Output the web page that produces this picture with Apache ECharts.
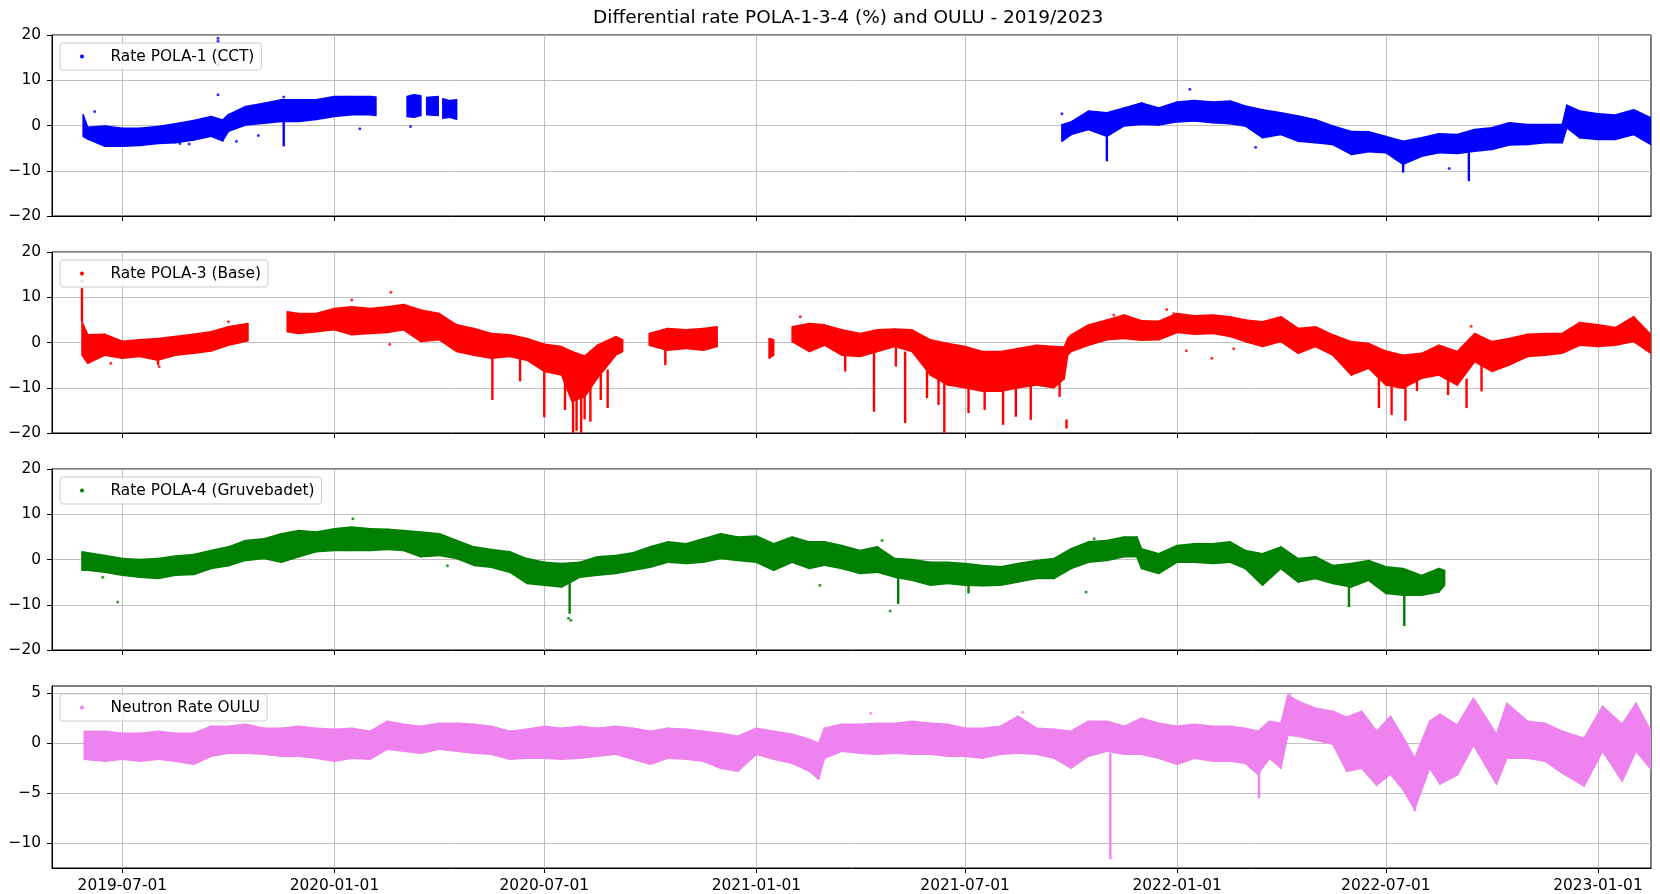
<!DOCTYPE html>
<html>
<head>
<meta charset="utf-8">
<title>Differential rate POLA-1-3-4 (%) and OULU - 2019/2023</title>
<script src="https://cdn.jsdelivr.net/npm/echarts@6/dist/echarts.min.js"></script>
<style>
  html, body { margin: 0; padding: 0; background: #fff; }
  #chart { width: 1660px; height: 894px; }
</style>
</head>
<body>
<div id="chart"></div>
<script>
const pola1Rows = [
  ['2019-05-28', -2.4, 2.4], ['2019-06-01', -3.0, -0.4], ['2019-06-16', -4.6, -0.1],
  ['2019-07-01', -4.6, -0.6], ['2019-07-16', -4.4, -0.6], ['2019-08-01', -4.0, -0.2],
  ['2019-08-16', -3.8, 0.4], ['2019-09-01', -3.2, 1.1], ['2019-09-16', -2.4, 2.0],
  ['2019-09-26', -3.4, 1.2], ['2019-10-01', -1.3, 2.4], ['2019-10-16', 0.1, 4.2],
  ['2019-11-01', 0.5, 4.9], ['2019-11-16', 0.9, 5.7], ['2019-12-01', 0.9, 5.7],
  ['2019-12-16', 1.3, 5.7], ['2020-01-01', 2.0, 6.4], ['2020-01-16', 2.4, 6.4],
  ['2020-02-01', 2.4, 6.4], ['2020-02-06', 2.2, 6.3], ['2020-02-20', null, null],
  ['2020-03-04', 2.0, 6.4], ['2020-03-10', 1.8, 6.8], ['2020-03-16', 2.2, 6.6],
  ['2020-03-18', null, null], ['2020-03-21', 2.4, 6.2], ['2020-03-31', 2.2, 6.4],
  ['2020-04-02', null, null], ['2020-04-04', 1.6, 5.9], ['2020-04-10', 1.8, 5.5],
  ['2020-04-16', 1.4, 5.7], ['2020-05-01', null, null],
  ['2021-09-23', -3.5, 0.2], ['2021-10-01', -2.0, 0.8], ['2021-10-16', -0.9, 3.2],
  ['2021-11-01', -2.4, 2.8], ['2021-11-16', -0.1, 3.9], ['2021-12-01', 0.2, 5.0],
  ['2021-12-16', 0.1, 3.9], ['2022-01-01', 0.8, 5.2], ['2022-01-16', 1.0, 5.5],
  ['2022-02-01', 0.6, 5.2], ['2022-02-16', 0.4, 5.4], ['2022-03-01', -0.1, 4.3],
  ['2022-03-16', -2.7, 3.5], ['2022-04-01', -2.0, 2.8], ['2022-04-16', -3.5, 2.1],
  ['2022-05-01', -3.8, 1.3], ['2022-05-16', -4.2, -0.1], ['2022-06-01', -6.4, -1.3],
  ['2022-06-16', -5.8, -1.4], ['2022-07-01', -6.0, -2.4], ['2022-07-16', -8.6, -3.5],
  ['2022-08-01', -6.8, -2.7], ['2022-08-16', -6.0, -1.8], ['2022-09-01', -6.2, -2.0],
  ['2022-09-16', -5.7, -0.9], ['2022-10-01', -5.3, -0.5], ['2022-10-16', -4.3, 0.6],
  ['2022-11-01', -4.2, 0.2], ['2022-11-16', -3.8, 0.2], ['2022-12-01', -3.8, 0.2],
  ['2022-12-05', -0.5, 4.5], ['2022-12-16', -2.7, 3.2], ['2023-01-01', -3.1, 2.6],
  ['2023-01-16', -3.1, 2.3], ['2023-02-01', -2.0, 3.5], ['2023-02-16', -4.2, 1.7]
];
// spikes: [date, low, high]
const pola1Spikes = [
  ['2019-11-18', -4.6, 0.9], ['2021-11-01', -7.9, -2.0],
  ['2022-07-16', -10.4, -7.0], ['2022-09-11', -12.3, -5.5]
];
const pola1Dots = [
  ['2019-06-07', 3.1], ['2019-09-22', 19.3], ['2019-09-22', 18.6], ['2019-09-22', 16.5],
  ['2019-09-22', 13.4], ['2019-09-22', 6.8], ['2019-11-18', 6.3], ['2019-08-20', -4.0],
  ['2019-08-28', -4.1], ['2019-10-08', -3.5], ['2019-10-27', -2.2], ['2020-01-23', -0.7],
  ['2020-03-07', -0.2], ['2021-09-23', 2.6], ['2022-01-12', 8.0], ['2022-08-25', -9.5],
  ['2022-03-10', -4.8]
];

const pola3Rows = [
  ['2019-05-27', -2.8, 4.6], ['2019-06-01', -4.6, 1.7], ['2019-06-16', -2.8, 1.8],
  ['2019-07-01', -3.5, 0.3], ['2019-07-16', -3.1, 0.6], ['2019-08-01', -3.9, 0.9],
  ['2019-08-16', -2.8, 1.3], ['2019-09-01', -2.4, 1.8], ['2019-09-16', -1.9, 2.4],
  ['2019-10-01', -0.6, 3.5], ['2019-10-18', 0.4, 4.2], ['2019-11-01', null, null],
  ['2019-11-21', 2.4, 6.8], ['2019-12-01', 2.0, 6.4], ['2019-12-16', 2.4, 6.4],
  ['2020-01-01', 2.8, 7.5], ['2020-01-16', 1.7, 7.9], ['2020-02-01', 2.0, 7.5],
  ['2020-02-16', 2.2, 7.9], ['2020-03-01', 2.8, 8.4], ['2020-03-16', 0.2, 7.2],
  ['2020-04-01', 0.6, 6.4], ['2020-04-16', -2.0, 3.9], ['2020-05-01', -2.8, 3.1],
  ['2020-05-16', -3.5, 2.0], ['2020-06-01', -3.1, 1.7], ['2020-06-16', -3.9, 0.9],
  ['2020-07-01', -6.4, -0.4], ['2020-07-16', -7.2, -0.9], ['2020-07-25', -13.0, -2.0],
  ['2020-08-05', -12.0, -3.0], ['2020-08-16', -7.9, -0.6], ['2020-09-01', -2.8, 1.3],
  ['2020-09-07', -2.0, 0.6], ['2020-09-20', null, null], ['2020-09-30', -0.6, 2.0],
  ['2020-10-16', -1.7, 3.1], ['2020-11-01', -1.3, 2.8], ['2020-11-16', -1.7, 3.1],
  ['2020-11-28', -0.9, 3.5], ['2020-12-15', null, null], ['2021-01-12', -3.5, 0.9],
  ['2021-01-16', -2.8, 0.6], ['2021-01-24', null, null], ['2021-02-01', 0.2, 3.5],
  ['2021-02-16', -2.0, 4.2], ['2021-03-01', -0.6, 3.9], ['2021-03-16', -2.8, 2.8],
  ['2021-04-01', -3.1, 2.0], ['2021-04-16', -2.0, 2.8], ['2021-05-01', -0.9, 3.0],
  ['2021-05-16', -2.0, 2.8], ['2021-06-01', -7.2, 0.6], ['2021-06-16', -9.4, -0.2],
  ['2021-07-01', -10.0, -0.9], ['2021-07-16', -10.8, -2.0], ['2021-08-01', -10.8, -2.0],
  ['2021-08-16', -10.0, -1.3], ['2021-09-01', -9.4, -0.6], ['2021-09-16', -10.0, -0.9],
  ['2021-09-25', -8.0, -1.0], ['2021-09-28', -2.8, 0.9], ['2021-10-01', -2.0, 1.7],
  ['2021-10-16', -0.6, 3.9], ['2021-11-01', 0.6, 5.0], ['2021-11-16', 0.9, 6.1],
  ['2021-12-01', 0.5, 4.8], ['2021-12-16', 0.6, 4.7], ['2022-01-01', 2.2, 6.4],
  ['2022-01-16', 1.8, 5.9], ['2022-02-01', 2.0, 6.1], ['2022-02-16', 1.3, 5.7],
  ['2022-03-01', 0.2, 5.0], ['2022-03-16', -0.9, 4.6], ['2022-04-01', 0.2, 5.7],
  ['2022-04-16', -2.4, 3.1], ['2022-05-01', -0.9, 3.5], ['2022-05-16', -2.8, 1.7],
  ['2022-06-01', -7.2, 0.2], ['2022-06-16', -5.7, -0.2], ['2022-07-01', -9.4, -1.9],
  ['2022-07-16', -10.1, -2.8], ['2022-08-01', -7.9, -2.4], ['2022-08-16', -7.2, -0.6],
  ['2022-09-01', -9.4, -2.0], ['2022-09-16', -4.2, 2.0], ['2022-10-01', -6.4, 0.2],
  ['2022-10-16', -5.0, 0.9], ['2022-11-01', -3.1, 1.8], ['2022-11-16', -2.8, 2.0],
  ['2022-12-01', -2.4, 2.0], ['2022-12-16', -0.6, 4.4], ['2023-01-01', -0.9, 3.9],
  ['2023-01-16', -0.6, 3.3], ['2023-02-01', 0.2, 5.7], ['2023-02-16', -2.4, 1.7]
];
const pola3Spikes = [
  ['2019-05-27', 4.6, 12.0], ['2019-08-01', -5.0, -3.0], ['2020-05-17', -12.7, -3.0],
  ['2020-06-10', -8.6, -3.0], ['2020-07-01', -16.5, -5.0], ['2020-07-19', -14.9, -6.0],
  ['2020-07-26', -20.0, -10.0], ['2020-07-29', -19.5, -10.0], ['2020-08-02', -20.0, -10.0],
  ['2020-08-05', -17.0, -10.0], ['2020-08-10', -17.5, -6.0], ['2020-08-19', -12.7, -6.0],
  ['2020-08-25', -14.5, -6.0], ['2020-10-14', -5.0, -1.5], ['2021-03-19', -6.4, -2.5],
  ['2021-04-13', -15.3, -2.0], ['2021-05-02', -5.3, -1.0], ['2021-05-10', -17.8, -2.0],
  ['2021-05-29', -12.3, -5.0], ['2021-06-08', -13.8, -8.0], ['2021-06-13', -20.0, -8.0],
  ['2021-07-04', -15.6, -9.0], ['2021-07-18', -14.9, -9.0], ['2021-08-03', -18.2, -9.0],
  ['2021-08-14', -16.4, -9.0], ['2021-08-27', -17.1, -8.0], ['2021-09-21', -12.0, -8.0],
  ['2021-09-27', -19.0, -17.0], ['2022-06-25', -14.5, -7.0], ['2022-07-06', -16.0, -8.0],
  ['2022-07-18', -17.3, -8.0], ['2022-07-28', -10.7, -6.0], ['2022-08-24', -11.6, -6.0],
  ['2022-09-09', -14.5, -8.0], ['2022-09-22', -10.8, -4.0]
];
const pola3Dots = [
  ['2019-05-27', 14.9], ['2019-05-27', 13.6], ['2019-06-21', -4.6], ['2019-08-02', -5.3],
  ['2019-10-01', 4.6], ['2020-01-16', 9.4], ['2020-02-19', 11.1], ['2020-02-18', -0.4],
  ['2021-02-08', 5.7], ['2021-11-07', 6.1], ['2021-12-23', 7.3], ['2021-12-29', 6.4],
  ['2022-01-09', -1.8], ['2022-01-31', -3.5], ['2022-02-19', -1.4], ['2022-09-13', 3.6]
];

const pola4Rows = [
  ['2019-05-27', -2.4, 1.7], ['2019-06-01', -2.4, 1.5], ['2019-06-16', -2.8, 0.9],
  ['2019-07-01', -3.5, 0.2], ['2019-07-16', -3.9, 0.0], ['2019-08-01', -4.2, 0.2],
  ['2019-08-16', -3.5, 0.8], ['2019-09-01', -3.3, 1.1], ['2019-09-16', -2.0, 2.0],
  ['2019-10-01', -1.4, 2.8], ['2019-10-16', -0.2, 4.2], ['2019-11-01', 0.2, 4.6],
  ['2019-11-16', -0.6, 5.7], ['2019-12-01', 0.6, 6.4], ['2019-12-16', 1.7, 6.1],
  ['2020-01-01', 2.0, 6.8], ['2020-01-16', 2.0, 7.2], ['2020-02-01', 2.0, 6.8],
  ['2020-02-16', 2.2, 6.7], ['2020-03-01', 2.0, 6.4], ['2020-03-16', 0.6, 6.1],
  ['2020-04-01', 0.9, 5.7], ['2020-04-16', 0.2, 4.2], ['2020-05-01', -1.3, 2.8],
  ['2020-05-16', -1.7, 2.2], ['2020-06-01', -2.8, 1.7], ['2020-06-16', -5.3, 0.2],
  ['2020-07-01', -5.7, -0.6], ['2020-07-16', -6.1, -0.9], ['2020-08-01', -3.9, -0.6],
  ['2020-08-16', -3.5, 0.6], ['2020-09-01', -3.1, 0.9], ['2020-09-16', -2.4, 1.5],
  ['2020-10-01', -1.7, 2.8], ['2020-10-16', -0.6, 3.9], ['2020-11-01', -0.9, 3.5],
  ['2020-11-16', -0.6, 4.6], ['2020-12-01', 0.2, 5.7], ['2020-12-16', -0.2, 5.0],
  ['2021-01-01', -0.6, 5.2], ['2021-01-16', -2.4, 3.5], ['2021-02-01', -0.6, 5.0],
  ['2021-02-16', -2.0, 3.9], ['2021-03-01', -1.3, 3.9], ['2021-03-16', -2.0, 3.1],
  ['2021-04-01', -3.1, 2.0], ['2021-04-16', -2.8, 2.8], ['2021-05-01', -3.9, 0.2],
  ['2021-05-16', -4.6, 0.0], ['2021-06-01', -5.7, -0.6], ['2021-06-16', -5.3, -0.6],
  ['2021-07-01', -5.7, -0.9], ['2021-07-16', -5.8, -1.3], ['2021-08-01', -5.7, -1.6],
  ['2021-08-16', -5.0, -0.9], ['2021-09-01', -4.2, -0.2], ['2021-09-16', -4.2, 0.2],
  ['2021-10-01', -2.0, 2.4], ['2021-10-16', -0.6, 3.9], ['2021-11-01', -0.2, 4.2],
  ['2021-11-16', 0.6, 5.0], ['2021-11-27', 0.6, 5.0], ['2021-12-01', -2.0, 2.4],
  ['2021-12-16', -3.1, 1.3], ['2022-01-01', -0.6, 3.1], ['2022-01-16', -0.6, 3.5],
  ['2022-02-01', -0.9, 3.5], ['2022-02-16', -0.6, 3.9], ['2022-03-01', -2.0, 2.0],
  ['2022-03-16', -5.7, 1.3], ['2022-04-01', -2.0, 2.8], ['2022-04-16', -5.0, 0.2],
  ['2022-05-01', -4.2, 0.6], ['2022-05-16', -5.3, -1.3], ['2022-06-01', -6.1, -0.9],
  ['2022-06-16', -4.6, -0.2], ['2022-07-01', -7.5, -1.6], ['2022-07-16', -7.9, -2.0],
  ['2022-08-01', -7.9, -3.5], ['2022-08-16', -7.2, -2.0], ['2022-08-21', -5.7, -2.4]
];
const pola4Spikes = [
  ['2020-07-23', -12.0, -5.0], ['2021-05-04', -9.8, -3.0], ['2021-07-04', -7.5, -4.0],
  ['2022-05-30', -10.5, -5.0], ['2022-07-17', -14.7, -6.0]
];
const pola4Dots = [
  ['2019-06-27', -9.4], ['2019-06-14', -3.9], ['2020-07-24', -13.4], ['2020-07-22', -13.0],
  ['2020-01-17', 9.0], ['2020-04-08', -1.4], ['2021-04-27', -11.4], ['2021-02-25', -5.7],
  ['2021-10-14', -7.2], ['2021-10-21', 4.6], ['2021-04-20', 4.2]
];

const ouluRows = [
  ['2019-05-29', -1.6, 1.2], ['2019-06-16', -1.8, 1.2], ['2019-07-01', -1.6, 1.0],
  ['2019-07-16', -1.8, 1.0], ['2019-08-01', -1.6, 1.2], ['2019-08-16', -1.8, 1.0],
  ['2019-09-01', -2.1, 1.0], ['2019-09-16', -1.3, 1.7], ['2019-10-01', -1.0, 1.7],
  ['2019-10-16', -1.0, 1.9], ['2019-11-01', -1.1, 1.5], ['2019-11-16', -1.3, 1.5],
  ['2019-12-01', -1.3, 1.7], ['2019-12-16', -1.5, 1.5], ['2020-01-01', -1.8, 1.4],
  ['2020-01-16', -1.5, 1.5], ['2020-02-01', -1.6, 1.2], ['2020-02-16', -0.6, 2.2],
  ['2020-03-01', -0.8, 1.9], ['2020-03-16', -1.0, 1.7], ['2020-04-01', -0.6, 2.0],
  ['2020-04-16', -0.8, 2.0], ['2020-05-01', -1.0, 1.9], ['2020-05-16', -1.1, 1.7],
  ['2020-06-01', -1.6, 1.2], ['2020-06-16', -1.5, 1.4], ['2020-07-01', -1.5, 1.7],
  ['2020-07-16', -1.6, 1.5], ['2020-08-01', -1.5, 1.7], ['2020-08-16', -1.3, 1.5],
  ['2020-09-01', -1.1, 1.7], ['2020-09-16', -1.6, 1.5], ['2020-10-01', -2.1, 1.2],
  ['2020-10-16', -1.5, 1.5], ['2020-11-01', -1.6, 1.4], ['2020-11-16', -1.8, 1.2],
  ['2020-12-01', -2.5, 1.0], ['2020-12-16', -2.8, 0.7], ['2021-01-01', -1.1, 1.5],
  ['2021-01-16', -1.6, 1.2], ['2021-02-01', -2.0, 0.9], ['2021-02-16', -2.8, 0.4],
  ['2021-02-24', -3.6, 0.0], ['2021-03-01', -1.5, 1.5], ['2021-03-16', -0.8, 1.9],
  ['2021-04-01', -1.0, 1.9], ['2021-04-16', -1.1, 2.0], ['2021-05-01', -1.0, 2.0],
  ['2021-05-16', -1.1, 2.2], ['2021-06-01', -1.1, 2.0], ['2021-06-16', -1.3, 1.9],
  ['2021-07-01', -1.3, 1.5], ['2021-07-16', -1.5, 1.5], ['2021-08-01', -1.1, 1.7],
  ['2021-08-16', -1.0, 2.7], ['2021-09-01', -1.1, 1.5], ['2021-09-16', -1.5, 1.4],
  ['2021-10-01', -2.5, 1.2], ['2021-10-16', -1.3, 2.2], ['2021-11-01', -0.8, 2.2],
  ['2021-11-16', -1.1, 1.7], ['2021-12-01', -1.1, 2.5], ['2021-12-16', -1.5, 2.0],
  ['2022-01-01', -2.1, 1.7], ['2022-01-16', -1.5, 1.9], ['2022-02-01', -1.8, 1.7],
  ['2022-02-16', -1.8, 1.7], ['2022-03-01', -2.0, 1.5], ['2022-03-12', -3.1, 1.2],
  ['2022-03-22', -1.5, 2.2], ['2022-04-01', -2.5, 2.0], ['2022-04-07', 0.8, 4.8],
  ['2022-04-16', 0.7, 4.2], ['2022-05-01', 0.3, 3.5], ['2022-05-16', -0.1, 3.2],
  ['2022-05-28', -2.8, 2.6], ['2022-06-10', -2.5, 3.2], ['2022-06-23', -4.2, 1.2],
  ['2022-07-05', -3.1, 2.7], ['2022-07-15', -4.5, 0.8], ['2022-07-26', -6.6, -1.5],
  ['2022-08-08', -2.5, 2.2], ['2022-08-17', -4.1, 2.9], ['2022-09-01', -3.2, 1.8],
  ['2022-09-15', -0.2, 4.5], ['2022-10-05', -4.1, 0.9], ['2022-10-14', -1.5, 4.0],
  ['2022-11-01', -1.5, 2.2], ['2022-11-16', -1.8, 2.0], ['2022-12-01', -3.0, 1.2],
  ['2022-12-20', -4.3, 0.5], ['2023-01-05', -0.8, 3.7], ['2023-01-22', -3.8, 1.9],
  ['2023-02-03', -0.8, 4.0], ['2023-02-16', -2.6, 1.2]
];
const ouluSpikes = [
  ['2021-11-04', -11.6, -1.0], ['2022-03-13', -5.5, -2.0], ['2022-07-26', -6.8, -4.0]
];
const ouluDots = [
  ['2021-04-10', 3.0], ['2021-08-20', 3.1], ['2022-04-09', 4.9]
];

const xTicks = ['2019-07-01', '2020-01-01', '2020-07-01', '2021-01-01',
                '2021-07-01', '2022-01-01', '2022-07-01', '2023-01-01'];
const rateTicks = [-20, -10, 0, 10, 20];
const ouluTicks = [-10, -5, 0, 5];

const panels = [
  { name: 'Rate POLA-1 (CCT)', color: '#0000ff', rows: pola1Rows, spikes: pola1Spikes, dots: pola1Dots },
  { name: 'Rate POLA-3 (Base)', color: '#ff0000', rows: pola3Rows, spikes: pola3Spikes, dots: pola3Dots },
  { name: 'Rate POLA-4 (Gruvebadet)', color: '#008000', rows: pola4Rows, spikes: pola4Spikes, dots: pola4Dots },
  { name: 'Neutron Rate OULU', color: '#ee82ee', rows: ouluRows, spikes: ouluSpikes, dots: ouluDots }
];

const FONT = 'DejaVu Sans';
const tops = [35, 252, 469, 686];
const heights = [181, 181, 181, 182];

// dates -> ms timestamps (the x axes are plain value axes in ms)
const toTs = (s) => {
  const p = s.split('-').map(Number);
  return Date.UTC(p[0], p[1] - 1, p[2]);
};
const pad = (n) => (n < 10 ? '0' : '') + n;
const fmtDate = (v) => {
  const d = new Date(v);
  return d.getUTCFullYear() + '-' + pad(d.getUTCMonth() + 1) + '-' + pad(d.getUTCDate());
};
const fmtNum = (v) => String(v).replace('-', '\u2212');

const tickTs = xTicks.map(toTs);

const grid = [], xAxis = [], yAxis = [], legend = [], series = [];

panels.forEach((p, i) => {
  grid.push({
    left: 52, right: 9, top: tops[i], height: heights[i],
    show: true, borderColor: '#000', borderWidth: 1
  });

  xAxis.push({
    type: 'value', gridIndex: i,
    min: toTs('2019-05-01'), max: toTs('2023-02-16'),
    axisLine: { show: true, onZero: false, lineStyle: { color: '#000', width: 1 } },
    axisTick: { show: true, customValues: tickTs, length: 5, lineStyle: { color: '#000', width: 1 } },
    axisLabel: {
      show: i === 3, customValues: tickTs, formatter: fmtDate,
      margin: 10, color: '#000', fontFamily: FONT, fontSize: 15.4
    },
    splitLine: { show: true, lineStyle: { color: '#b0b0b0', width: 0.8 } }
  });

  const isOulu = i === 3;
  const yTicks = isOulu ? ouluTicks : rateTicks;
  yAxis.push({
    type: 'value', gridIndex: i,
    min: isOulu ? -12.48 : -20, max: isOulu ? 5.72 : 20,
    axisLine: { show: true, onZero: false, lineStyle: { color: '#000', width: 1 } },
    axisTick: { show: true, customValues: yTicks, length: 5, lineStyle: { color: '#000', width: 1 } },
    axisLabel: {
      customValues: yTicks, formatter: fmtNum,
      margin: 11, color: '#000', fontFamily: FONT, fontSize: 15.4
    },
    splitLine: { show: true, lineStyle: { color: '#b0b0b0', width: 0.8 } }
  });

  legend.push({
    data: [p.name], left: 60, top: tops[i] + 8,
    icon: 'circle', itemWidth: 4, itemHeight: 4,
    padding: [6, 7, 6, 20],
    backgroundColor: 'rgba(255,255,255,0.8)',
    borderColor: '#cccccc', borderWidth: 1, borderRadius: 3,
    selectedMode: false,
    textStyle: { fontFamily: FONT, fontSize: 15.4, color: '#000', padding: [0, 0, 0, 21.5] }
  });

  // scatter cloud drawn as a band: one quad between each pair of neighbouring rows
  const band = p.rows.map(r => [toTs(r[0]), r[1], r[2]]);
  series.push({
    name: p.name, type: 'custom', xAxisIndex: i, yAxisIndex: i,
    silent: true, clip: true, encode: { x: 0, y: [1, 2] },
    itemStyle: { color: p.color },
    renderItem: (params, api) => {
      const cur = band[params.dataIndex];
      const nxt = band[params.dataIndex + 1];
      if (!nxt || cur[1] == null || nxt[1] == null) return null;
      const pts = [
        api.coord([cur[0], cur[1]]), api.coord([nxt[0], nxt[1]]),
        api.coord([nxt[0], nxt[2]]), api.coord([cur[0], cur[2]])
      ];
      return {
        type: 'polygon', shape: { points: pts },
        style: { fill: p.color, stroke: p.color, lineWidth: 1.5, lineJoin: 'round' }
      };
    },
    data: band
  });
  series.push({
    name: p.name + ' spikes', type: 'custom', xAxisIndex: i, yAxisIndex: i,
    silent: true, clip: true, encode: { x: 0, y: [1, 2] },
    renderItem: (params, api) => {
      const a = api.coord([api.value(0), api.value(1)]);
      const b = api.coord([api.value(0), api.value(2)]);
      return {
        type: 'line',
        shape: { x1: a[0], y1: a[1], x2: b[0], y2: b[1] },
        style: { stroke: p.color, lineWidth: 2.4 }
      };
    },
    data: p.spikes.map(r => [toTs(r[0]), r[1], r[2]])
  });
  series.push({
    name: p.name + ' dots', type: 'scatter', xAxisIndex: i, yAxisIndex: i,
    symbolSize: 3, silent: true, itemStyle: { color: p.color },
    data: p.dots.map(r => [toTs(r[0]), r[1]])
  });
});

const chart = echarts.init(document.getElementById('chart'));
chart.setOption({
  animation: false,
  backgroundColor: '#fff',
  title: {
    text: 'Differential rate POLA-1-3-4 (%) and OULU - 2019/2023',
    left: 593, top: 9, padding: 0,
    textStyle: { fontFamily: FONT, fontSize: 18.5, fontWeight: 'normal', color: '#000' }
  },
  grid, xAxis, yAxis, legend, series
});
</script>
</body>
</html>
